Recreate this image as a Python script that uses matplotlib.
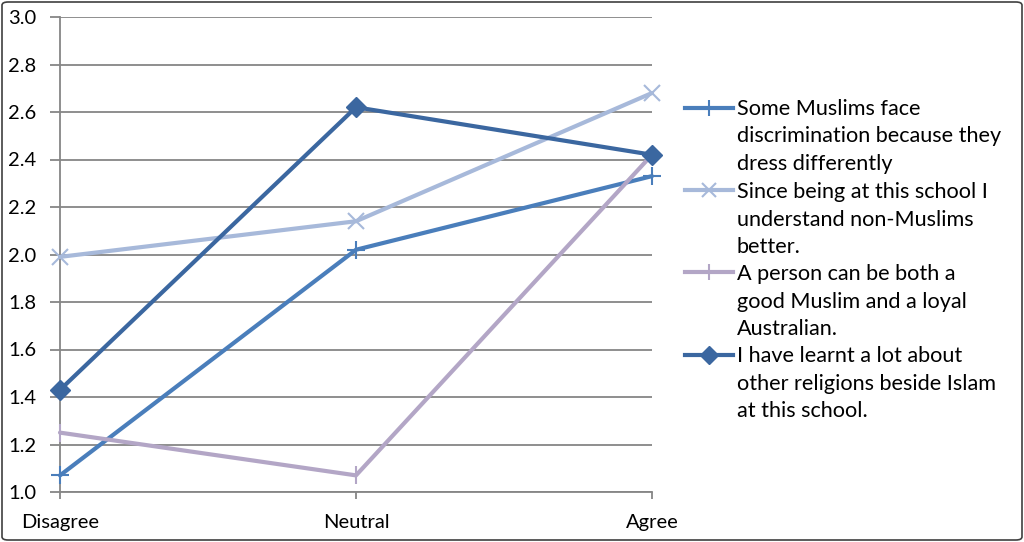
import matplotlib
matplotlib.use("Agg")
import matplotlib.pyplot as plt
from matplotlib.lines import Line2D
from matplotlib.patches import FancyBboxPatch

plt.rcParams['font.family'] = ['Lato', 'DejaVu Sans']

categories = ["Disagree", "Neutral", "Agree"]
series_names = [
    "Some Muslims face\ndiscrimination because they\ndress differently",
    "Since being at this school I\nunderstand non-Muslims\nbetter.",
    "A person can be both a\ngood Muslim and a loyal\nAustralian.",
    "I have learnt a lot about\nother religions beside Islam\nat this school.",
]
s1 = [1.07, 2.02, 2.33]
s2 = [1.99, 2.14, 2.68]
s3 = [1.25, 1.07, 2.42]
s4 = [1.43, 2.62, 2.42]
y_ticks = [1.0, 1.2, 1.4, 1.6, 1.8, 2.0, 2.2, 2.4, 2.6, 2.8, 3.0]

values = [s1, s2, s3, s4]
colors = ["#4A7EBB", "#A7B9DA", "#B3A6C6", "#3B67A0"]
markers = ["+", "x", "|", "D"]
msizes = [13, 12, 13, 10.5]
mews = [1.5, 1.5, 1.5, 1.0]

W, H = 1024, 542
fig = plt.figure(figsize=(W/100, H/100), dpi=100)
ax = fig.add_axes([60/W, 1-492/H, (652-60)/W, (492-17)/H])

x = list(range(len(categories)))
for vals, c, m, ms, mew in zip(values, colors, markers, msizes, mews):
    ax.plot(x, vals, color=c, lw=3.0, marker=m, ms=ms, mew=mew,
            mec=c, mfc=c, solid_capstyle='round', solid_joinstyle='round',
            clip_on=False, zorder=3)

ax.set_xlim(0, 2)
ax.set_ylim(1.0, 3.0)
ax.set_yticks(y_ticks)
ax.set_yticklabels([f"{v:.1f}" for v in y_ticks])
ax.set_xticks(x)
ax.set_xticklabels(categories)
ax.yaxis.grid(True, color="#868686", lw=1.3)
ax.set_axisbelow(True)
for side in ["top", "right"]:
    ax.spines[side].set_visible(False)
for side in ["left", "bottom"]:
    ax.spines[side].set_color("#868686")
    ax.spines[side].set_linewidth(1.3)
ax.tick_params(axis='y', length=7, width=1.3, color="#868686", pad=10, labelsize=14.5)
ax.tick_params(axis='x', length=5, width=1.3, color="#868686", pad=11, labelsize=14.5)

# legend (drawn manually so the handle aligns with the first text line)
handle_y = [108, 190, 272, 355]
first_base = [115, 198, 280, 362]
line_step = 27.5
for (name, c, m, ms, mew, hy, by) in zip(series_names, colors, markers, msizes,
                                         mews, handle_y, first_base):
    yf = 1 - hy/H
    fig.add_artist(Line2D([685/W, 733/W], [yf, yf], color=c, lw=3.0,
                          transform=fig.transFigure))
    fig.add_artist(Line2D([709/W], [yf], color=c, marker=m, ms=ms*0.85, mew=mew,
                          mec=c, mfc=c, transform=fig.transFigure))
    for i, line in enumerate(name.split("\n")):
        fig.text(737/W, 1 - (by + i*line_step)/H, line, fontsize=15.6,
                 ha='left', va='baseline', transform=fig.transFigure)

border = FancyBboxPatch((2/W, 2/H), 1020/W, 538/H,
                        boxstyle="round,pad=0,rounding_size=0.006",
                        transform=fig.transFigure, fill=False,
                        edgecolor="#404040", lw=1.2)
fig.add_artist(border)

fig.savefig("out.png", dpi=100)
